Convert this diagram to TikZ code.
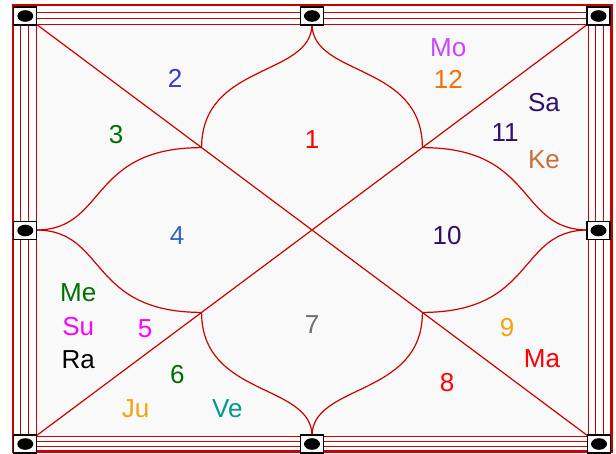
\documentclass[tikz,border=0pt]{standalone}
\usepackage{fontspec}
\setmainfont{Liberation Sans}
\definecolor{chartred}{RGB}{204,0,0}
\definecolor{chartbg}{RGB}{249,249,249}
\definecolor{cMo}{RGB}{200,70,255}
\definecolor{cTwelve}{RGB}{245,110,10}
\definecolor{cIndigo}{RGB}{50,15,110}
\definecolor{cKe}{RGB}{200,110,60}
\definecolor{cTwo}{RGB}{50,60,210}
\definecolor{cFour}{RGB}{50,100,200}
\definecolor{cGreen}{RGB}{0,110,0}
\definecolor{cRed}{RGB}{255,0,0}
\definecolor{cMag}{RGB}{255,0,255}
\definecolor{cGray}{RGB}{110,110,110}
\definecolor{cOrange}{RGB}{250,160,20}
\definecolor{cTeal}{RGB}{0,150,150}
\begin{document}
\begin{tikzpicture}[x=1pt,y=-1pt,
  frameline/.style={draw=chartred, line width=1pt},
  outerframe/.style={draw=chartred, line width=2.2pt},
  chartline/.style={draw=chartred, line width=1.2pt},
  conn/.style={draw=black, fill=white, line width=1.2pt, minimum width=23pt, minimum height=18pt, inner sep=0pt},
  lbl/.style={font=\fontsize{26}{30}\selectfont, inner sep=0pt, anchor=center}]
\useasboundingbox (0,0) rectangle (616,453);
\fill[white] (0,0) rectangle (616,453);
% frame
\draw[outerframe] (13,5) rectangle (611.5,451.5);
\draw[frameline] (20.7,12.7) rectangle (603,446.5);
\draw[frameline] (28.3,18.3) rectangle (595,441.5);
% chart corners
\coordinate (cTL) at (36,24);
\coordinate (cTR) at (588,24);
\coordinate (cBL) at (36,436);
\coordinate (cBR) at (588,436);
\fill[chartbg] (cTL) rectangle (cBR);
\draw[frameline] (cTL) rectangle (cBR);
% mid points
\coordinate (mT) at (312,24);
\coordinate (mB) at (312,436);
\coordinate (mL) at (36,230);
\coordinate (mR) at (588,230);
% cusps
\coordinate (kTL) at (201.6,147.6);
\coordinate (kTR) at (422.4,147.6);
\coordinate (kBL) at (201.6,312.4);
\coordinate (kBR) at (422.4,312.4);
% diagonals
\draw[chartline] (cTL) -- (cBR);
\draw[chartline] (cTR) -- (cBL);
% curves
\draw[chartline] (mT) .. controls +(0,53) and +(0,-85) .. (kTL);
\draw[chartline] (mT) .. controls +(0,53) and +(0,-85) .. (kTR);
\draw[chartline] (mB) .. controls +(0,-53) and +(0,85) .. (kBL);
\draw[chartline] (mB) .. controls +(0,-53) and +(0,85) .. (kBR);
\draw[chartline] (mL) .. controls +(71,0) and +(-114,0) .. (kTL);
\draw[chartline] (mL) .. controls +(71,0) and +(-114,0) .. (kBL);
\draw[chartline] (mR) .. controls +(-71,0) and +(114,0) .. (kTR);
\draw[chartline] (mR) .. controls +(-71,0) and +(114,0) .. (kBR);
% connector boxes
\foreach \n/\x/\y in {pTL/25.3/16, pT/312/16, pTR/598.5/16, pL/25.3/230.5, pR/598.5/230.5, pBL/25.3/444, pB/312/444, pBR/599/444}{
  \node[conn] (\n) at (\x,\y) {};
  \fill[black] (\n.center) ellipse [x radius=8pt, y radius=5.8pt];
}
% labels
\node[lbl, text=cMo] (tMo) at (448.3,47.7) {Mo};
\node[lbl, text=cTwelve] (t12) at (448.3,79.3) {12};
\node[lbl, text=cIndigo] (tSa) at (544,102.7) {Sa};
\node[lbl, text=cIndigo] (t11) at (505,133) {11};
\node[lbl, text=cKe] (tKe) at (544,160) {Ke};
\node[lbl, text=cTwo] (t2) at (175,78) {2};
\node[lbl, text=cGreen] (t3) at (116,135) {3};
\node[lbl, text=cRed] (t1) at (312,140) {1};
\node[lbl, text=cFour] (t4) at (177,236) {4};
\node[lbl, text=cIndigo] (t10) at (447,236) {10};
\node[lbl, text=cGreen] (tMe) at (78.3,292.3) {Me};
\node[lbl, text=cMag] (tSu) at (78.3,326.7) {Su};
\node[lbl, text=black] (tRa) at (78.3,360) {Ra};
\node[lbl, text=cMag] (t5) at (145,328.3) {5};
\node[lbl, text=cGray] (t7) at (312,325) {7};
\node[lbl, text=cOrange] (t9) at (507,328) {9};
\node[lbl, text=cRed] (tMa) at (542,359) {Ma};
\node[lbl, text=cGreen] (t6) at (177.3,375) {6};
\node[lbl, text=cRed] (t8) at (447,383) {8};
\node[lbl, text=cOrange] (tJu) at (135.7,408.3) {Ju};
\node[lbl, text=cTeal] (tVe) at (227.3,408.3) {Ve};
\end{tikzpicture}
\end{document}
